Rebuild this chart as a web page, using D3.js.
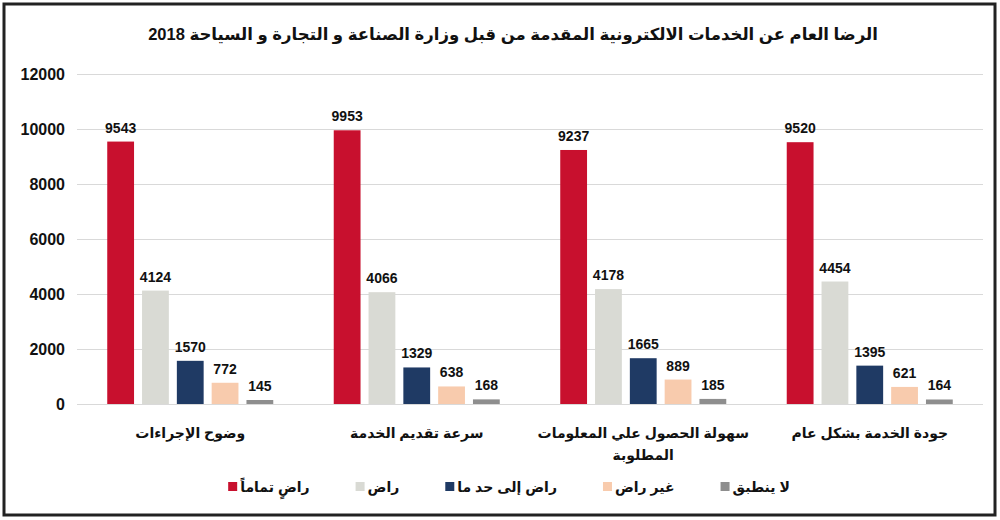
<!DOCTYPE html>
<html>
<head>
<meta charset="utf-8">
<script src="https://cdn.jsdelivr.net/npm/d3@7"></script>
<style>
  body { margin: 0; background: #fff; }
  svg text { font-family: "Liberation Sans", "DejaVu Sans", Arial, sans-serif; font-weight: bold; fill: #111; }
</style>
</head>
<body>
<div id="chart"></div>
<script>
// categorias e séries
const categories = ["وضوح الإجراءات", "سرعة تقديم الخدمة", "سهولة الحصول علي المعلومات المطلوبة", "جودة الخدمة بشكل عام"];
const seriesNames = ["راضٍ تماماً", "راض", "راض إلى حد ما", "غير راض", "لا ينطبق"];
const verySatisfied = [9543, 9953, 9237, 9520];
const satisfied = [4124, 4066, 4178, 4454];
const somewhatSatisfied = [1570, 1329, 1665, 1395];
const notSatisfied = [772, 638, 889, 621];
const notApplicable = [145, 168, 185, 164];
const yTicks = [0, 2000, 4000, 6000, 8000, 10000, 12000];
const titleText = "الرضا العام عن الخدمات الالكترونية المقدمة من قبل وزارة الصناعة و التجارة و السياحة 2018";

const seriesValues = [verySatisfied, satisfied, somewhatSatisfied, notSatisfied, notApplicable];
const colors = ["#C8102E", "#D9DAD4", "#1F3A64", "#F8CBAD", "#8E8E8E"];

const width = 1000;
const height = 520;
const margin = { top: 74, right: 17, bottom: 116, left: 77 };
const plotW = width - margin.left - margin.right;
const plotH = height - margin.top - margin.bottom;

const svg = d3.select("#chart").append("svg")
  .attr("width", width)
  .attr("height", height);

// moldura
svg.append("rect")
  .attr("x", 4).attr("y", 4)
  .attr("width", 991).attr("height", 511)
  .attr("fill", "#fff")
  .attr("stroke", "#222")
  .attr("stroke-width", 3);

// título
svg.append("text")
  .attr("x", 513).attr("y", 40)
  .attr("text-anchor", "middle")
  .attr("direction", "rtl")
  .style("font-size", "16.5px")
  .text(titleText);

const g = svg.append("g").attr("transform", `translate(${margin.left},${margin.top})`);

// escalas
const x0 = d3.scaleBand()
  .domain(categories)
  .range([0, plotW])
  .paddingInner(0.267)
  .paddingOuter(0.1335);

const x1 = d3.scaleBand()
  .domain(d3.range(seriesNames.length))
  .range([0, x0.bandwidth()])
  .paddingInner(0.23);

const y = d3.scaleLinear()
  .domain([0, 12000])
  .range([plotH, 0]);

// eixo Y com grade
const yAxis = g.append("g")
  .call(d3.axisLeft(y).tickValues(yTicks).tickSize(-plotW).tickPadding(12).tickFormat(d3.format("d")));
yAxis.select(".domain").remove();
yAxis.selectAll(".tick line").attr("stroke", "#d9d9d9").attr("stroke-width", 1);
yAxis.selectAll(".tick text")
  .style("font-size", "16px")
  .style("font-family", "'Liberation Sans', Arial, sans-serif")
  .attr("fill", "#111");

// barras
const groups = g.selectAll(".grp")
  .data(categories)
  .enter().append("g")
  .attr("class", "grp")
  .attr("transform", (d) => `translate(${x0(d)},0)`);

groups.each(function (cat, ci) {
  const rows = seriesValues.map((vals, si) => ({ si: si, v: vals[ci] }));
  const sel = d3.select(this);
  sel.selectAll("rect")
    .data(rows)
    .enter().append("rect")
    .attr("x", (d) => x1(d.si))
    .attr("y", (d) => y(d.v))
    .attr("width", x1.bandwidth())
    .attr("height", (d) => plotH - y(d.v))
    .attr("fill", (d) => colors[d.si]);

  sel.selectAll(".val")
    .data(rows)
    .enter().append("text")
    .attr("class", "val")
    .attr("x", (d) => x1(d.si) + x1.bandwidth() / 2)
    .attr("y", (d) => y(d.v) - 9)
    .attr("text-anchor", "middle")
    .style("font-size", "14px")
    .text((d) => d.v);
});

// rótulos das categorias (quebra de linha)
function wrapRtl(textSel, maxW) {
  textSel.each(function () {
    const t = d3.select(this);
    const words = t.text().split(" ");
    t.text(null);
    let line = [];
    let tspan = t.append("tspan").attr("x", 0).attr("dy", 0);
    words.forEach((w) => {
      line.push(w);
      tspan.text(line.join(" "));
      if (tspan.node().getComputedTextLength() > maxW && line.length > 1) {
        line.pop();
        tspan.text(line.join(" "));
        line = [w];
        tspan = t.append("tspan").attr("x", 0).attr("dy", "22px").text(w);
      }
    });
  });
}

g.selectAll(".cat")
  .data(categories)
  .enter().append("text")
  .attr("class", "cat")
  .attr("transform", (d) => `translate(${x0(d) + x0.bandwidth() / 2},${plotH + 34})`)
  .attr("text-anchor", "middle")
  .attr("direction", "rtl")
  .style("font-size", "14px")
  .text((d) => d)
  .call(wrapRtl, 235);

// legenda
const legend = svg.append("g").attr("transform", "translate(0,492)");
const items = legend.selectAll(".leg")
  .data(seriesNames)
  .enter().append("g")
  .attr("class", "leg");

items.append("rect")
  .attr("width", 9).attr("height", 9)
  .attr("y", -10)
  .attr("fill", (d, i) => colors[i]);

items.append("text")
  .attr("x", 12)
  .attr("text-anchor", "start")
  .style("font-size", "14px")
  .text((d) => d);

// posicionar os itens
const gap = 46;
const widths = [];
items.selectAll("text").each(function () { widths.push(this.getComputedTextLength()); });
const itemW = widths.map((w) => 12 + w);
const total = d3.sum(itemW) + gap * (itemW.length - 1);
let cx = 509 - total / 2;
items.each(function (d, i) {
  d3.select(this).attr("transform", `translate(${cx},0)`);
  cx += itemW[i] + gap;
});
</script>
</body>
</html>
